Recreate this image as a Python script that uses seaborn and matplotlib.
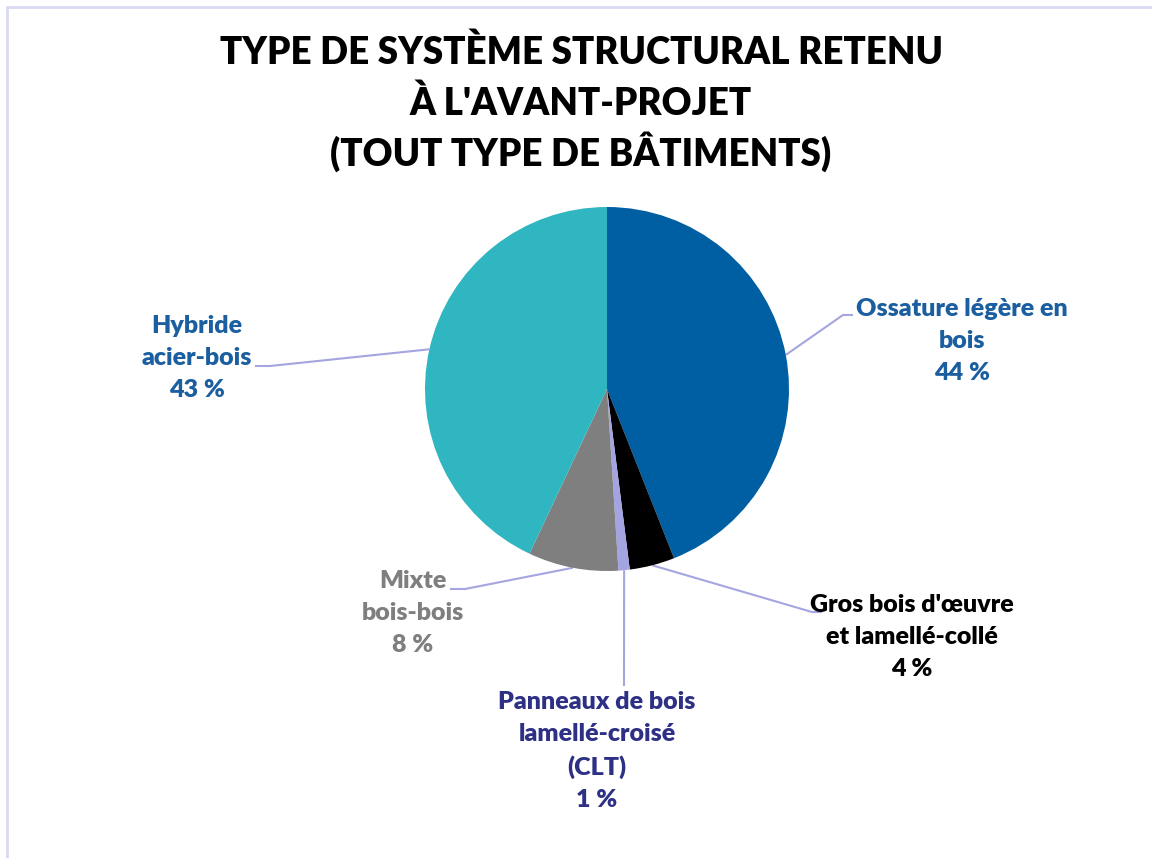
import matplotlib.pyplot as plt
import seaborn as sns
import numpy as np
from matplotlib.lines import Line2D

# Données (lecture du graphique)
categories = [
    "Ossature légère en\nbois",
    "Gros bois d'œuvre\net lamellé-collé",
    "Panneaux de bois\nlamellé-croisé\n(CLT)",
    "Mixte\nbois-bois",
    "Hybride\nacier-bois",
]
values = [44, 4, 1, 8, 43]
slice_colors = ["#005EA2", "#000000", "#A4A4E3", "#7F7F7F", "#2FB6C1"]
label_colors = ["#1B5FA0", "#000000", "#2E3085", "#7F7F7F", "#1B5FA0"]

title_lines = ["TYPE DE SYSTÈME STRUCTURAL RETENU", "À L'AVANT-PROJET", "(TOUT TYPE DE BÂTIMENTS)"]

# Mise en page (pixels, origine en haut à gauche)
W, H = 1152, 858
centre = (607, 389)
rayon = 182
title_baselines = [64, 115, 166]
label_pos = [(962, 341), (912, 637), (597, 751), (413, 613), (197, 358)]
leader_pts = [
    [(843, 315), (853, 315)],
    [(812, 612), (822, 612)],
    [(624, 686)],
    [(465, 589), (450, 589)],
    [(270, 366), (255, 366)],
]
leader_color = "#A5A5E0"

sns.set_theme(style="white")
plt.rcParams["font.family"] = ["Lato", "DejaVu Sans"]

fig = plt.figure(figsize=(W / 100, H / 100), dpi=100)
ax = fig.add_axes([0, 0, 1, 1])

wedges, _ = ax.pie(
    values,
    colors=slice_colors,
    startangle=90,
    counterclock=False,
    center=(centre[0], H - centre[1]),
    radius=rayon,
    wedgeprops=dict(linewidth=0),
)
ax.set_xlim(0, W)
ax.set_ylim(0, H)
ax.set_aspect("equal")
ax.axis("off")

for w, lab, val, col, pos, pts in zip(wedges, categories, values, label_colors, label_pos, leader_pts):
    ang = np.deg2rad((w.theta1 + w.theta2) / 2)
    x0 = w.center[0] + w.r * np.cos(ang)
    y0 = w.center[1] + w.r * np.sin(ang)
    xs = [x0] + [p[0] for p in pts]
    ys = [y0] + [H - p[1] for p in pts]
    ax.plot(xs, ys, color=leader_color, lw=1.5, solid_capstyle="butt", zorder=0)
    ax.text(pos[0], H - pos[1], f"{lab}\n{val} %", ha="center", va="center",
            fontsize=18, fontweight="heavy", color=col, linespacing=1.55)

for line, yb in zip(title_lines, title_baselines):
    fig.text(581 / W, 1 - yb / H, line, ha="center", va="baseline",
             fontsize=26.5, fontweight="heavy", color="black")

# cadre du graphique
fig.add_artist(Line2D([7 / W, 1], [1 - 7 / H, 1 - 7 / H], color="#D9D9F2", lw=2))
fig.add_artist(Line2D([7 / W, 7 / W], [0, 1 - 7 / H], color="#D9D9F2", lw=2))

fig.savefig("out.png", dpi=100)
